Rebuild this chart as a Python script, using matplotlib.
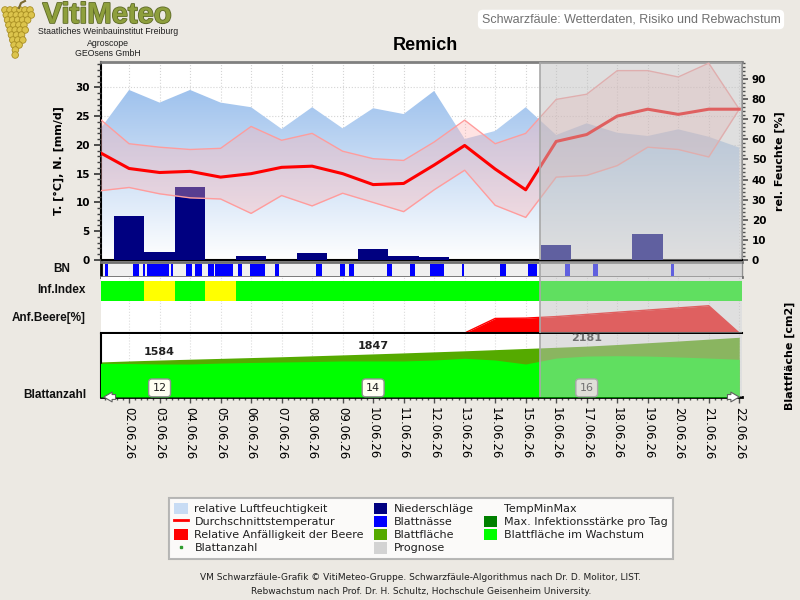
import numpy as np
import matplotlib.pyplot as plt
import matplotlib.transforms as mtransforms
import matplotlib.patheffects as pe
from matplotlib.colors import LinearSegmentedColormap
from matplotlib.lines import Line2D
from matplotlib.patches import Patch, Circle
from matplotlib.ticker import MultipleLocator

# day index relative to 02.06.26 (first value = 01.06.26)
days = np.arange(-1, 21)
date_labels = ['%02d.06.26' % d for d in range(2, 23)]

humidity = [64.0, 84.6, 78.3, 84.6, 78.3, 76.0, 65.2, 76.0, 65.5, 75.5, 72.6,
            84.1, 60.2, 64.2, 76.0, 62.2, 68.0, 63.3, 61.7, 65.0, 61.3, 55.9]
temp_mean = [18.8, 15.9, 15.2, 15.4, 14.4, 15.0, 16.1, 16.3, 15.0, 13.1, 13.3,
             16.5, 19.9, 15.8, 12.2, 20.6, 21.8, 25.0, 26.2, 25.3, 26.2, 26.2]
temp_max = [24.7, 20.2, 19.6, 19.2, 19.4, 23.2, 20.8, 22.0, 18.9, 17.6, 17.3,
            20.5, 24.3, 20.2, 22.0, 27.9, 28.8, 32.9, 32.9, 31.8, 34.2, 26.2]
temp_min = [12.0, 12.6, 11.5, 10.8, 10.6, 8.1, 11.2, 9.4, 11.6, 10.0, 8.4,
            12.2, 15.6, 9.5, 7.4, 14.4, 14.7, 16.4, 19.6, 19.2, 17.9, 26.2]
precip = [0, 7.6, 1.45, 12.6, 0, 0.75, 0, 1.3, 0, 1.9, 0.7,
          0.5, 0, 0, 0, 2.6, 0, 0, 4.5, 0, 0, 0]

# leaf wetness periods (start, end) in days
bn_start = [-0.79, 0.14, 0.47, 0.60, 1.38, 1.87, 2.17, 2.60, 2.82, 3.58, 3.97, 4.79,
            6.13, 6.92, 7.22, 8.46, 9.21, 9.87, 10.91, 12.16, 13.07, 14.30, 15.22, 17.77]
bn_end = [-0.69, 0.33, 0.52, 1.31, 1.43, 2.06, 2.38, 2.79, 3.40, 3.70, 4.46, 4.92,
          6.33, 7.08, 7.38, 8.62, 9.38, 10.33, 10.97, 12.36, 13.37, 14.46, 15.38, 17.87]

inf_index = [0, 0, 1, 0, 1, 0, 0, 0, 0, 0, 0, 0, 0, 0, 0, 0, 0, 0, 0, 0, 0, 0]
anf_beere = [0, 0, 0, 0, 0, 0, 0, 0, 0, 0, 0, 0, 0, 47, 48, 53, 60, 67, 74, 81, 88, 0]

leaf_area = [1500, 1545, 1584, 1620, 1655, 1690, 1725, 1765, 1805, 1847, 1890,
             1935, 1980, 2030, 2080, 2130, 2181, 2250, 2325, 2400, 2480, 2560]
leaf_growth = [1445, 1435, 1415, 1415, 1455, 1480, 1500, 1520, 1545, 1545, 1545,
               1585, 1660, 1585, 1415, 1670, 1755, 1770, 1755, 1715, 1670, 1615]
leaf_days = [1, 8, 15]
leaf_count = [12, 14, 16]

forecast_start = 13.48
x_min, x_max = -0.92, 20.09
T_MAX, H_MAX, A_MAX = 34.4, 98.5, 2700

bg = '#ece9e3'
fig = plt.figure(figsize=(8, 6), dpi=100, facecolor=bg)


def box(x0, y0, x1, y1):
    return [x0 / 800, 1 - y1 / 600, (x1 - x0) / 800, (y1 - y0) / 600]


def shade(a):
    a.axvspan(forecast_start, x_max, color='#c0c0c0', alpha=0.5, lw=0, zorder=10)
    a.axvline(forecast_start, color='#a8a8a8', lw=1.2, zorder=11)


# ---- main panel: humidity (right) + temperature / rain (left)
ax = fig.add_axes(box(101, 62, 742, 260))
axt = ax.twinx()

poly = ax.fill_between(days, humidity, 0, color='none', lw=0)
cmap = LinearSegmentedColormap.from_list('hum', ['#ffffff', '#8fb8ea'])
img = ax.imshow(np.linspace(0, 1, 256).reshape(-1, 1), extent=[x_min, x_max, 0, H_MAX],
                origin='lower', cmap=cmap, aspect='auto', zorder=1)
img.set_clip_path(poly.get_paths()[0], transform=ax.transData)
for t in range(5, 35, 5):
    ax.axhline(t * H_MAX / T_MAX, color='#d4d4d4', ls=':', lw=0.8, zorder=0.5)
ax.set_xticks(range(0, 21))
ax.xaxis.set_minor_locator(MultipleLocator(0.2))
ax.grid(axis='x', color='#d4d4d4', ls=':', lw=0.8)
ax.set_axisbelow(True)
ax.set_xlim(x_min, x_max)
ax.set_ylim(0, H_MAX)
ax.tick_params(axis='x', which='both', length=0, labelbottom=False)
ax.yaxis.tick_right()
ax.yaxis.set_label_position('right')
ax.yaxis.set_major_locator(MultipleLocator(10))
ax.yaxis.set_minor_locator(MultipleLocator(2))
ax.tick_params(axis='y', which='major', length=4, width=1.2, color='#505050', pad=3)
ax.tick_params(axis='y', which='minor', length=2, width=1, color='#505050')
ax.set_yticks(range(0, 100, 10))
ax.set_ylabel('rel. Feuchte [%]', fontsize=8, fontweight='bold', labelpad=6)
for lab in ax.get_yticklabels():
    lab.set_fontweight('bold')
    lab.set_fontsize(7.5)
ax.spines['top'].set(color='#808080', lw=2)
ax.spines['right'].set(color='#909090', lw=1.5)
ax.spines['left'].set(color='black', lw=1.5)
ax.spines['bottom'].set(color='black', lw=1.5)

axt.bar(days, precip, width=1.0, color='#000080', zorder=2)
axt.fill_between(days, temp_min, temp_max, color='#ffb0b0', alpha=0.35, lw=0, zorder=3)
axt.plot(days, temp_max, color='#ff9c9c', lw=1, zorder=4)
axt.plot(days, temp_min, color='#ff9c9c', lw=1, zorder=4)
axt.plot(days, temp_mean, color='#ff0000', lw=2.2, zorder=5)
shade(axt)
axt.set_ylim(0, T_MAX)
axt.yaxis.tick_left()
axt.yaxis.set_label_position('left')
axt.yaxis.set_major_locator(MultipleLocator(5))
axt.yaxis.set_minor_locator(MultipleLocator(1))
axt.tick_params(axis='y', which='major', length=5, width=1.3, color='#404040', pad=3)
axt.tick_params(axis='y', which='minor', length=3, width=1, color='#404040')
axt.set_yticks(range(0, 35, 5))
for lab in axt.get_yticklabels():
    lab.set_fontweight('bold')
    lab.set_fontsize(7.5)
axt.set_ylabel('T. [°C], N. [mm/d]', fontsize=8, fontweight='bold', labelpad=8)
for s in axt.spines.values():
    s.set_visible(False)

# ---- leaf wetness strip
bn = fig.add_axes(box(101, 262, 742, 277), sharex=ax, facecolor='#f0f0f0')
bn.broken_barh([(s, e - s) for s, e in zip(bn_start, bn_end)], (0.1, 0.77),
               facecolors='#0000ff', zorder=2)
shade(bn)
bn.set_ylim(0, 1)
bn.set_yticks([])
bn.tick_params(axis='x', which='both', length=0, labelbottom=False)
bn.spines['top'].set(color='#707070', lw=2)
bn.spines['bottom'].set(color='#707070', lw=2)
bn.spines['left'].set(color='black', lw=2)
bn.spines['right'].set(color='#909090', lw=1)

# ---- infection index
inf = fig.add_axes(box(101, 277, 742, 302), sharex=ax)
inf.bar(days, 0.8, bottom=0.04, width=1.0,
        color=['#ffff00' if v else '#00ff00' for v in inf_index], zorder=2)
inf.grid(axis='x', color='#dcdcdc', ls=':', lw=0.8)
inf.set_axisbelow(True)
shade(inf)
inf.set_ylim(0, 1)
inf.set_yticks([])
inf.tick_params(axis='x', which='both', length=0, labelbottom=False)
for s in inf.spines.values():
    s.set_visible(False)

# ---- berry susceptibility
anf = fig.add_axes(box(101, 302, 742, 333), sharex=ax)
anf.fill_between(days, anf_beere, 0, color='#ff0000', lw=0, zorder=2)
anf.plot(days, anf_beere, color='#ff0000', lw=1, zorder=2)
anf.grid(axis='x', color='#dcdcdc', ls=':', lw=0.8)
anf.set_axisbelow(True)
shade(anf)
anf.set_ylim(0, 100)
anf.set_yticks([])
anf.tick_params(axis='x', which='both', length=0, labelbottom=False)
for s in anf.spines.values():
    s.set_visible(False)
anf.spines['bottom'].set(visible=True, color='black', lw=1.5)

# ---- leaf area
bl = fig.add_axes(box(101, 334, 742, 397), sharex=ax)
bl.fill_between(days, leaf_area, 0, color='#55aa00', lw=0, zorder=2)
bl.fill_between(days, leaf_growth, 0, color='#00ff00', lw=0, zorder=3)
bl.grid(axis='x', color='#dcdcdc', ls=':', lw=0.8)
bl.set_axisbelow(True)
shade(bl)
bl.set_ylim(0, A_MAX)
bl.set_yticks([])
bl.set_xticks(range(0, 21), labels=date_labels)
bl.tick_params(axis='x', which='major', length=4, width=1, color='#505050',
               labelsize=8.5, labelrotation=270, pad=3)
bl.tick_params(axis='x', which='minor', length=2.5, width=1, color='#505050')
for s in bl.spines.values():
    s.set_visible(False)
bl.spines['bottom'].set(visible=True, color='black', lw=2)
bl.spines['left'].set(visible=True, color='black', lw=1.5)
ax.set_xlim(x_min, x_max)

blend = mtransforms.blended_transform_factory(bl.transData, bl.transAxes)
for d, n in zip(leaf_days, leaf_count):
    bl.text(d, 0.145, str(n), transform=blend, ha='center', va='center', fontsize=8,
            color='#202020', zorder=6,
            bbox=dict(boxstyle='round,pad=0.35,rounding_size=0.3', fc='#fffff2',
                      ec='#909090', lw=1))
    area = leaf_area[list(days).index(d)]
    bl.annotate(str(area), (d, area), xytext=(0, 2), textcoords='offset points',
                ha='center', va='bottom', fontsize=8, fontweight='bold',
                color='#202020', zorder=6)
for xa, xb in [(0.027, 0.0), (0.973, 1.0)]:
    bl.annotate('', xy=(xb, 0), xytext=(xa, 0), xycoords='axes fraction',
                arrowprops=dict(arrowstyle='simple,head_width=0.7,head_length=0.6,tail_width=0.35',
                                fc='white', ec='#606060', lw=0.8), zorder=12,
                annotation_clip=False)

# ---- side labels
lab_kw = dict(fontsize=8.5, fontweight='bold', family='Liberation Sans', color='#101010')
fig.text(62 / 800, 1 - 269 / 600, 'BN', ha='center', va='center', **lab_kw)
fig.text(86 / 800, 1 - 290 / 600, 'Inf.Index', ha='right', va='center', **lab_kw)
fig.text(86 / 800, 1 - 318 / 600, 'Anf.Beere[%]', ha='right', va='center', **lab_kw)
fig.text(86 / 800, 1 - 395 / 600, 'Blattanzahl', ha='right', va='center', **lab_kw)
fig.text(790 / 800, 1 - 356 / 600, 'Blattfläche [cm2]', rotation=90, ha='center',
         va='center', fontsize=8, fontweight='bold')

# ---- titles and logo
fig.text(425 / 800, 1 - 45 / 600, 'Remich', ha='center', va='center', fontsize=13,
         fontweight='bold', family='Liberation Sans')
fig.text(631 / 800, 1 - 19.5 / 600, 'Schwarzfäule: Wetterdaten, Risiko und Rebwachstum',
         ha='center', va='center', fontsize=9, color='#707070', family='Liberation Sans',
         bbox=dict(boxstyle='round,pad=0.3,rounding_size=0.4', fc='white', ec='none'))
fig.text(107 / 800, 1 - 15 / 600, 'VitiMeteo', ha='center', va='center', fontsize=21,
         fontweight='bold', family='Liberation Sans', color='#8e9f3c',
         path_effects=[pe.withStroke(linewidth=1.2, foreground='#5e6a28')])
for yy, txt in [(32, 'Staatliches Weinbauinstitut Freiburg'), (43, 'Agroscope'),
                (54, 'GEOsens GmbH')]:
    fig.text(108 / 800, 1 - yy / 600, txt, ha='center', va='center', fontsize=6.3,
             family='Liberation Sans', color='#202020')

logo = fig.add_axes(box(0, 0, 42, 60))
logo.set_xlim(0, 42)
logo.set_ylim(60, 0)
logo.axis('off')
for i, yy in enumerate(range(10, 58, 5)):
    half = max(14 - i * 1.5, 2)
    cx = 19 - i * 0.2
    for xx in np.arange(cx - half, cx + half + 0.1, 5.0):
        logo.add_patch(Circle((xx, yy), 3.3, fc='#dcc44c', ec='#a88e22', lw=0.6))
logo.plot([19, 21, 25], [8, 3, 1], color='#7a6a30', lw=1.5)

# ---- legend
handles = [
    Patch(fc='#c8dcf4', ec='none'),
    Line2D([], [], color='#ff0000', lw=2),
    Patch(fc='#ff0000', ec='none'),
    Line2D([], [], marker='s', color='#2e9b2e', ms=1.5, ls='none'),
    Patch(fc='#000080', ec='none'),
    Patch(fc='#0000ff', ec='none'),
    Patch(fc='#55aa00', ec='none'),
    Patch(fc='#d3d3d3', ec='none'),
    Line2D([], [], ls='none'),
    Patch(fc='#008000', ec='none'),
    Patch(fc='#00ff00', ec='none'),
]
labels = ['relative Luftfeuchtigkeit', 'Durchschnittstemperatur',
          'Relative Anfälligkeit der Beere', 'Blattanzahl',
          'Niederschläge', 'Blattnässe', 'Blattfläche', 'Prognose',
          'TempMinMax', 'Max. Infektionsstärke pro Tag', 'Blattfläche im Wachstum']
leg = fig.legend(handles, labels, loc='upper center', bbox_to_anchor=(421 / 800, 1 - 492 / 600),
                 ncol=3, fontsize=8, frameon=True, fancybox=False, edgecolor='#a8a8a8',
                 handlelength=1.2, handleheight=1.25, labelspacing=0.12, columnspacing=0.9,
                 handletextpad=0.6, borderpad=0.45)
leg.get_frame().set_linewidth(1.5)
for t in leg.get_texts():
    t.set_color('#202020')

fig.text(421 / 800, 1 - 578 / 600,
         'VM Schwarzfäule-Grafik © VitiMeteo-Gruppe. Schwarzfäule-Algorithmus nach Dr. D. Molitor, LIST.',
         ha='center', va='center', fontsize=6.5, color='#202020')
fig.text(421 / 800, 1 - 591 / 600,
         'Rebwachstum nach Prof. Dr. H. Schultz, Hochschule Geisenheim University.',
         ha='center', va='center', fontsize=6.5, color='#202020')

fig.savefig('out.png', dpi=100, facecolor=bg)
